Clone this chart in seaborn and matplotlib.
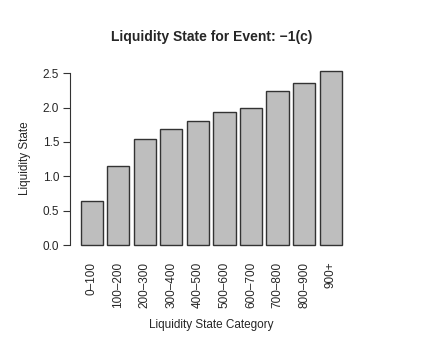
import matplotlib
matplotlib.use("Agg")
import matplotlib.pyplot as plt
import seaborn as sns
import pandas as pd

categories = ["0\u2013100", "100\u2013200", "200\u2013300", "300\u2013400", "400\u2013500",
              "500\u2013600", "600\u2013700", "700\u2013800", "800\u2013900", "900+"]
liquidity = [0.646, 1.155, 1.549, 1.689, 1.811, 1.942, 2.0, 2.238, 2.354, 2.539]

df = pd.DataFrame({"cat": categories, "val": liquidity})

sns.set_style("white")
plt.rcParams["font.family"] = ["Liberation Sans", "DejaVu Sans"]

fig = plt.figure(figsize=(4.23, 3.53), dpi=100)
ax = fig.add_axes([0.1662, 0.2861, 0.6662, 0.5337])

sns.barplot(data=df, x="cat", y="val", color="#BEBEBE", saturation=1,
            width=1 / 1.2, edgecolor="#333333", linewidth=1, ax=ax)

ax.set_xlim(-0.81, 9.81)
ax.set_ylim(-0.1016, 2.64)
ax.set_yticks([0, 0.5, 1.0, 1.5, 2.0, 2.5])
ax.set_yticklabels(["0.0", "0.5", "1.0", "1.5", "2.0", "2.5"])
for s in ["top", "right", "bottom"]:
    ax.spines[s].set_visible(False)
ax.spines["left"].set_bounds(0, 2.5)
ax.spines["left"].set_color("#333333")
ax.spines["left"].set_linewidth(0.8)
ax.tick_params(axis="y", left=True, length=5, width=0.8, color="#333333",
               pad=3, labelsize=8.5)
ax.tick_params(axis="x", bottom=False, length=0, pad=7, labelsize=8.5, labelrotation=90)

ax.set_xlabel("Liquidity State Category", fontsize=8.5, labelpad=8)
ax.set_ylabel("Liquidity State", fontsize=8.5, labelpad=8.5)
fig.text(0.5, (353 - 37) / 353, "Liquidity State for Event: \u22121(c)",
         ha="center", va="center", fontsize=10, fontweight="bold")

fig.savefig("out.png", dpi=100)
